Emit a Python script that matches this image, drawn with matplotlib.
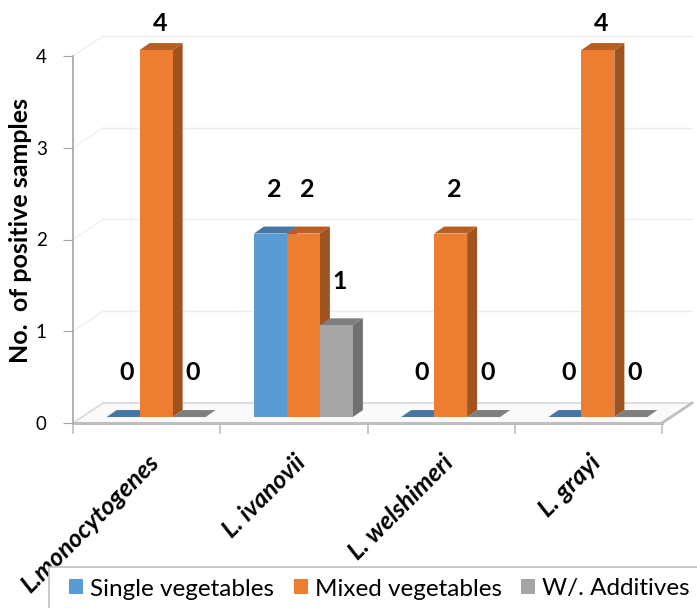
import matplotlib
matplotlib.use('Agg')
import matplotlib.pyplot as plt
from matplotlib.patches import Polygon, Rectangle

species = ['L.monocytogenes', 'L. ivanovii', 'L. welshimeri', 'L. grayi']
series_names = ['Single vegetables', 'Mixed vegetables', 'W/. Additives']
single_veg = [0, 2, 0, 0]
mixed_veg = [4, 2, 2, 4]
additives = [0, 1, 0, 0]
y_ticks = [0, 1, 2, 3, 4]

front_colors = ['#5B9BD5', '#ED7D31', '#A5A5A5']
side_colors = ['#3F6E98', '#A0521F', '#707070']
top_colors = ['#4676A3', '#B85E22', '#7F7F7F']

plt.rcParams['font.family'] = ['Lato', 'DejaVu Sans']

W, H = 697, 608
fig = plt.figure(figsize=(W / 100, H / 100), dpi=100)
ax = fig.add_axes([73 / W, (H - 423) / H, 589 / W, 367 / H])
ax.set_xlim(-0.5, 3.5)
ax.set_ylim(0, 4)

# 3d look (in data units)
wall_dx, wall_dy = 0.204, 0.218     # back wall offset
bar_fx, bar_fy = 0.0645, 0.065       # bar front offset from axis plane
bar_ddx, bar_ddy = 0.068, 0.076      # bar depth
bar_w = 0.224

# floor
floor = Polygon([(-0.5, 0), (3.5, 0), (3.5 + wall_dx, wall_dy), (-0.5 + wall_dx, wall_dy)],
                closed=True, facecolor='#FAFAFA', edgecolor='#D9D9D9', lw=1.2,
                clip_on=False, zorder=1)
ax.add_patch(floor)
ax.plot([-0.5, 3.5], [0, 0], color='#BFBFBF', lw=2.2, clip_on=False, zorder=2)
ax.plot([3.5, 3.5 + wall_dx], [0, wall_dy], color='#BFBFBF', lw=2, clip_on=False, zorder=2)

# back wall grid + side wall diagonals
for t in y_ticks[1:]:
    ax.plot([-0.5 + wall_dx, 3.5 + wall_dx], [t + wall_dy, t + wall_dy],
            color='#EDEDED', lw=1, clip_on=False, zorder=0)
    ax.plot([-0.5, -0.5 + wall_dx], [t, t + wall_dy],
            color='#F0F0F0', lw=1, clip_on=False, zorder=0)

all_series = [single_veg, mixed_veg, additives]
for i, vals in enumerate(all_series):
    for j, v in enumerate(vals):
        x0 = j - 1.5 * bar_w + i * bar_w + bar_fx
        y0 = bar_fy
        z = 3 + i
        top = Polygon([(x0, y0 + v), (x0 + bar_w, y0 + v),
                       (x0 + bar_w + bar_ddx, y0 + v + bar_ddy), (x0 + bar_ddx, y0 + v + bar_ddy)],
                      closed=True, facecolor=top_colors[i], edgecolor='none',
                      clip_on=False, zorder=z)
        ax.add_patch(top)
        if v > 0:
            side = Polygon([(x0 + bar_w, y0), (x0 + bar_w + bar_ddx, y0 + bar_ddy),
                            (x0 + bar_w + bar_ddx, y0 + v + bar_ddy), (x0 + bar_w, y0 + v)],
                           closed=True, facecolor=side_colors[i], edgecolor='none',
                           clip_on=False, zorder=z)
            ax.add_patch(side)
            ax.bar(x0, v, width=bar_w, bottom=y0, align='edge', color=front_colors[i],
                   edgecolor='none', zorder=z, clip_on=False)
        ly = min(v + bar_fy + 0.48, 4.35)
        ax.text(x0 + bar_w / 2 + 0.025, ly, str(v), ha='center', va='center',
                fontsize=18, fontweight='bold', color='black', zorder=10)

# axes
for s in ['top', 'right', 'bottom']:
    ax.spines[s].set_visible(False)
ax.spines['left'].set_color('#A6A6A6')
ax.spines['left'].set_linewidth(1.2)
ax.set_yticks(y_ticks)
ax.set_yticklabels([str(t) for t in y_ticks], fontsize=13.5)
ax.tick_params(axis='y', direction='out', length=7, color='#A6A6A6', pad=12)
ax.set_xticks([-0.5, 0.5, 1.5, 2.5, 3.5])
ax.set_xticklabels([])
ax.tick_params(axis='x', direction='out', length=8, color='#BFBFBF', width=1.2)
ax.patch.set_visible(False)

for j, name in enumerate(species):
    ax.text(j + 0.055, -0.39, name, rotation=45, rotation_mode='anchor', ha='right', va='center',
            fontsize=18, fontweight='bold', fontstyle='italic')

fig.text(21 / W, 1 - 231 / H, 'No.  of positive samples', rotation=90, ha='center', va='center',
         fontsize=18, fontweight='bold')

# legend
fig.patches.append(Rectangle((49 / W, -0.05), 0.95, 1 - 567 / H + 0.05, transform=fig.transFigure,
                             facecolor='white', edgecolor='#BFBFBF', lw=1.2))
handles = [Rectangle((0, 0), 1, 1, facecolor=c, edgecolor='none') for c in front_colors]
fig.legend(handles, series_names, loc='center left', bbox_to_anchor=(69 / W, 1 - 589 / H),
           ncol=3, frameon=False, fontsize=17.5, handlelength=0.58, handleheight=0.58,
           handletextpad=0.29, columnspacing=0.8, borderpad=0, borderaxespad=0)

fig.savefig('out.png', dpi=100)
